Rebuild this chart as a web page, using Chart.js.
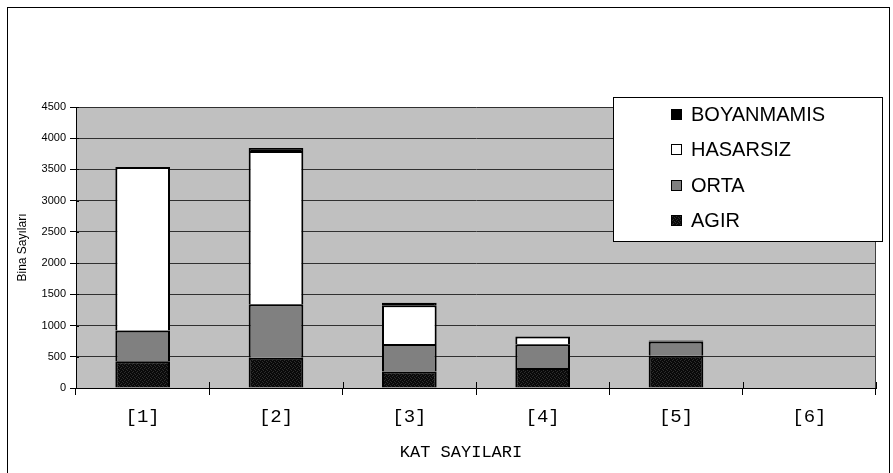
<!DOCTYPE html>
<html>
<head>
<meta charset="utf-8">
<script src="https://cdn.jsdelivr.net/npm/chart.js@4/dist/chart.umd.min.js"></script>
<style>
  html, body { margin: 0; padding: 0; background: #fff; }
  canvas { display: block; }
</style>
</head>
<body>
<canvas id="c" width="893" height="473"></canvas>
<script>
// Building counts per storey group, split by damage class (stacked bottom to top)
const categories = ['[1]', '[2]', '[3]', '[4]', '[5]', '[6]'];
const seriesNames = ['AGIR', 'ORTA', 'HASARSIZ', 'BOYANMAMIS'];
const agir       = [430, 485, 265, 320, 515, 0];
const orta       = [490, 855, 440, 380, 230, 0];
const hasarsiz   = [2620, 2455, 620, 125, 0, 0];
const boyanmamis = [0, 50, 40, 0, 15, 0];
const yTicks = { min: 0, max: 4500, step: 500 };
const xTitle = 'KAT SAYILARI';
const yTitle = 'Bina Sayıları';

const SANS = '"Liberation Sans", Arial, sans-serif';
const MONO = '"Liberation Mono", "Courier New", monospace';

const canvas = document.getElementById('c');
const ctx = canvas.getContext('2d');

// dark dithered fill for the heavy-damage class
const tile = document.createElement('canvas');
tile.width = 4; tile.height = 4;
const tg = tile.getContext('2d');
tg.fillStyle = '#0a0a0a'; tg.fillRect(0, 0, 4, 4);
tg.fillStyle = '#2e2e2e';
[[0, 0], [2, 1], [1, 3], [3, 2]].forEach(([x, y]) => tg.fillRect(x, y, 1, 1));
const agirFill = ctx.createPattern(tile, 'repeat');

const fills = [agirFill, '#808080', '#ffffff', '#000000'];
const values = [agir, orta, hasarsiz, boyanmamis];

const datasets = seriesNames.map((name, i) => ({
  label: name,
  data: values[i],
  backgroundColor: fills[i],
  borderColor: '#000',
  borderWidth: { top: 2, left: 2, right: 2, bottom: 0 },
  borderSkipped: false,
  categoryPercentage: 0.41,
  barPercentage: 1
}));

// page frame and grey plot background
const backdrop = {
  id: 'backdrop',
  beforeDraw(chart) {
    const { ctx: c, chartArea: a, width, height } = chart;
    c.save();
    c.fillStyle = '#fff';
    c.fillRect(0, 0, width, height);
    c.strokeStyle = '#000';
    c.lineWidth = 1;
    c.strokeRect(7.5, 7.5, width - 11, height - 3);
    c.fillStyle = '#c0c0c0';
    c.fillRect(a.left, a.top, a.right - a.left, a.bottom - a.top);
    c.restore();
  },
  beforeDatasetsDraw(chart) {
    const { ctx: c, chartArea: a } = chart;
    c.save();
    c.strokeStyle = '#404040';
    c.lineWidth = 1;
    c.beginPath();
    c.moveTo(Math.round(a.right) - 0.5, a.top);
    c.lineTo(Math.round(a.right) - 0.5, a.bottom);
    c.stroke();
    c.restore();
  }
};

// tick marks that also reach a little inside the axes, plus the category-axis title
const crossTicks = {
  id: 'crossTicks',
  afterDatasetsDraw(chart) {
    const { ctx: c } = chart;
    const xs = chart.scales.x, ys = chart.scales.y;
    c.save();
    c.strokeStyle = '#000';
    c.lineWidth = 1;
    c.beginPath();
    const n = chart.data.labels.length;
    for (let i = 0; i <= n; i++) {
      const x = Math.round(xs.left + i * (xs.right - xs.left) / n) + 0.5;
      c.moveTo(x, xs.top - 6);
      c.lineTo(x, xs.top);
    }
    ys.ticks.forEach(t => {
      const y = Math.round(ys.getPixelForValue(t.value)) + 0.5;
      c.moveTo(ys.right, y);
      c.lineTo(ys.right + 3, y);
    });
    c.stroke();
    c.fillStyle = '#000';
    c.font = '17px ' + MONO;
    c.textAlign = 'center';
    c.textBaseline = 'middle';
    c.fillText(xTitle, (xs.left + xs.right) / 2 - 15, xs.top + 64);
    c.restore();
  }
};

// boxed legend, top series first
const legendBox = {
  id: 'legendBox',
  afterDraw(chart) {
    const { ctx: c, chartArea: a } = chart;
    const x0 = Math.round(a.right) - 263, x1 = Math.round(a.right) + 7;
    const y0 = Math.round(a.top) - 10, y1 = Math.round(a.top) + 135;
    c.save();
    c.fillStyle = '#fff';
    c.fillRect(x0, y0, x1 - x0, y1 - y0);
    c.strokeStyle = '#000';
    c.lineWidth = 1;
    c.strokeRect(x0 + 0.5, y0 + 0.5, x1 - x0 - 1, y1 - y0 - 1);
    const items = chart.data.datasets.slice().reverse();
    items.forEach((ds, i) => {
      const cy = Math.round(y0 + 17 + i * 35.3);
      const mx = x0 + 58;
      c.fillStyle = ds.backgroundColor;
      c.fillRect(mx, cy - 5, 11, 11);
      c.strokeStyle = '#000';
      c.strokeRect(mx + 0.5, cy - 4.5, 10, 10);
      c.fillStyle = '#000';
      c.font = '20px ' + SANS;
      c.textBaseline = 'middle';
      c.textAlign = 'left';
      c.fillText(ds.label, x0 + 78, cy + 1);
    });
    c.restore();
  }
};

new Chart(ctx, {
  type: 'bar',
  data: { labels: categories, datasets },
  plugins: [backdrop, crossTicks, legendBox],
  options: {
    responsive: false,
    animation: false,
    devicePixelRatio: 1,
    layout: { padding: { left: 10, right: 17, top: 107, bottom: 0 } },
    plugins: { legend: { display: false }, tooltip: { enabled: false } },
    scales: {
      x: {
        stacked: true,
        offset: true,
        grid: { offset: true, drawOnChartArea: false, tickLength: 7, color: '#000', tickColor: '#000' },
        border: { color: '#000', width: 1 },
        ticks: { font: { family: MONO, size: 19 }, color: '#000', padding: 11, maxRotation: 0 },
        title: { display: false },
        afterFit(s) { s.height = 85; }
      },
      y: {
        stacked: true,
        min: yTicks.min,
        max: yTicks.max,
        ticks: {
          stepSize: yTicks.step,
          font: { family: SANS, size: 11 },
          color: '#000',
          padding: 4,
          callback: v => String(v)
        },
        grid: { color: '#303030', tickColor: '#000', tickLength: 6, lineWidth: 1 },
        border: { color: '#000', width: 1 },
        title: { display: true, text: yTitle, font: { family: SANS, size: 12 }, color: '#000', padding: { top: 5, bottom: 0 } },
        afterFit(s) { s.width = 66; }
      }
    }
  }
});
</script>
</body>
</html>
